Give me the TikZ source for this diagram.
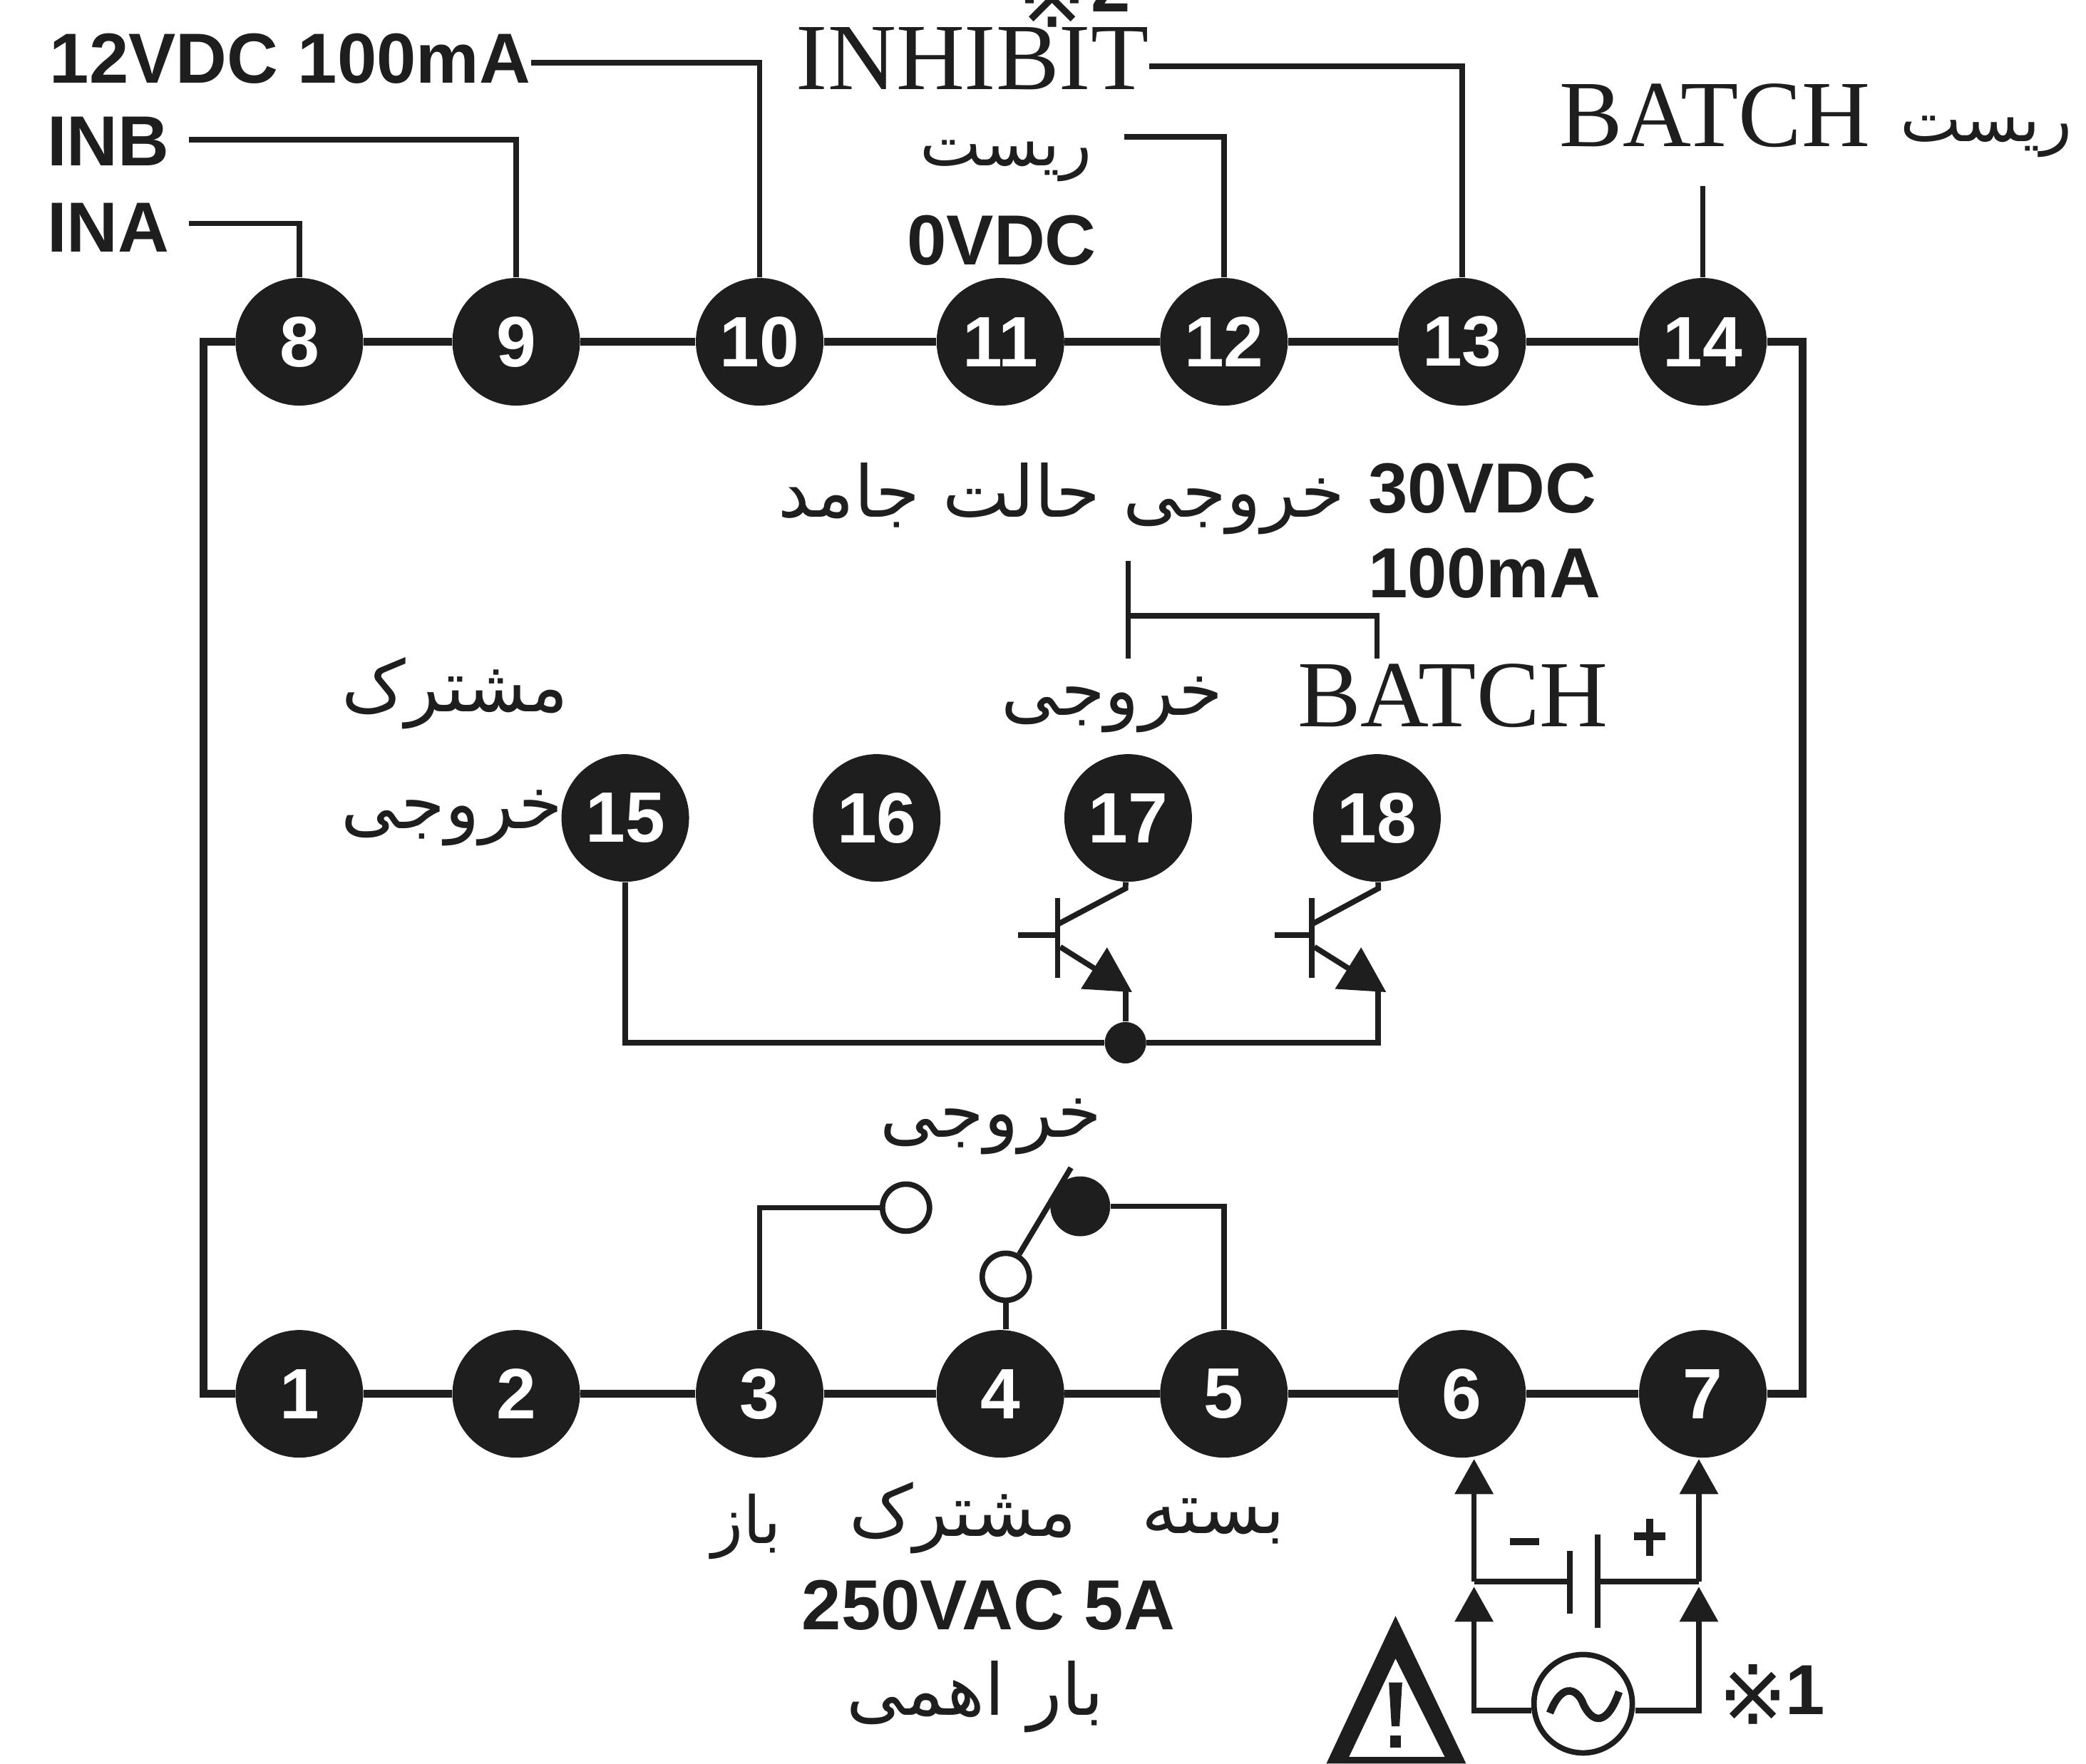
\documentclass[tikz,border=0pt]{standalone}
\usepackage{fontspec}
\usetikzlibrary{arrows.meta}
\setmainfont{Liberation Serif}
\setsansfont{Liberation Sans}
\newfontfamily\arabicfont[Script=Arabic]{DejaVu Sans}
\newfontfamily\symbolfont{DejaVu Sans}
\TeXXeTstate=1
\newcommand{\farsi}[1]{{\arabicfont\beginR #1\endR}}
\definecolor{inkblack}{RGB}{30,30,30}
\tikzset{
  terminal/.style={circle,fill=inkblack,text=white,minimum size=1.79cm,inner sep=0pt,font=\sffamily\bfseries\fontsize{28.5}{28.5}\selectfont},
  boldlabel/.style={text=inkblack,inner sep=0pt,font=\sffamily\bfseries\fontsize{28.3}{28.3}\selectfont},
  seriflabel/.style={text=inkblack,inner sep=0pt,font=\fontsize{37.8}{37.8}\selectfont},
  farsilabel/.style={text=inkblack,inner sep=0pt,font=\fontsize{28.5}{28.5}\selectfont},
  farsismall/.style={text=inkblack,inner sep=0pt,font=\fontsize{26}{26}\selectfont},
  marklabel/.style={text=inkblack,inner sep=0pt,font=\symbolfont\fontsize{33}{33}\selectfont},
  wire/.style={draw=inkblack,line width=2.2pt,line join=miter},
  frameline/.style={draw=inkblack,line width=3.2pt,line join=miter},
  emitter/.style={wire,-{Triangle[length=18pt,width=19pt]}},
  supply/.style={wire,-{Triangle[length=14pt,width=15pt]}},
}
\begin{document}
\begin{tikzpicture}[x=0.0186607cm,y=-0.0186607cm]
  \clip (0,0) rectangle (1568,1326);

  % Upper terminals
  \node (t8) at (225,257) [terminal] {8};
  \node (t9) at (388,257) [terminal] {9};
  \node (t10) at (571,257) [terminal] {10};
  \node (t11) at (752,257) [terminal] {11};
  \node (t12) at (920,257) [terminal] {12};
  \node (t13) at (1099,257) [terminal] {13};
  \node (t14) at (1280,257) [terminal] {14};

  % Lower terminals
  \node (t1) at (225,1048) [terminal] {1};
  \node (t2) at (388,1048) [terminal] {2};
  \node (t3) at (571,1048) [terminal] {3};
  \node (t4) at (752,1048) [terminal] {4};
  \node (t5) at (920,1048) [terminal] {5};
  \node (t6) at (1099,1048) [terminal] {6};
  \node (t7) at (1280,1048) [terminal] {7};

  % Middle terminals
  \node (t15) at (470,615) [terminal] {15};
  \node (t16) at (659,615) [terminal] {16};
  \node (t17) at (848,615) [terminal] {17};
  \node (t18) at (1035,615) [terminal] {18};

  % Case
  \coordinate (cornerul) at (153,257);
  \coordinate (cornerll) at (153,1048);
  \coordinate (cornerur) at (1355,257);
  \coordinate (cornerlr) at (1355,1048);
  \draw[frameline] (t8) -- (cornerul) -- (cornerll) -- (t1);
  \draw[frameline] (t14) -- (cornerur) -- (cornerlr) -- (t7);
  \draw[frameline] (t8) -- (t9);
  \draw[frameline] (t9) -- (t10);
  \draw[frameline] (t10) -- (t11);
  \draw[frameline] (t11) -- (t12);
  \draw[frameline] (t12) -- (t13);
  \draw[frameline] (t13) -- (t14);
  \draw[frameline] (t1) -- (t2);
  \draw[frameline] (t2) -- (t3);
  \draw[frameline] (t3) -- (t4);
  \draw[frameline] (t4) -- (t5);
  \draw[frameline] (t5) -- (t6);
  \draw[frameline] (t6) -- (t7);

  % Top labels
  \node (lsupply) at (37,44) [boldlabel,anchor=west] {12VDC 100mA};
  \node (linb) at (35,106) [boldlabel,anchor=west] {INB};
  \node (lina) at (35,171) [boldlabel,anchor=west] {INA};
  \node (linhibit) at (731,44) [seriflabel] {INHIBIT};
  \node (lmarktwo) at (791,-2) [marklabel] {※};
  \node (ltwo) at (835,-10) [boldlabel] {2};
  \node (lreset) at (756,121) [farsismall] {\farsi{ریست}};
  \node (lzero) at (753,181) [boldlabel] {0VDC};
  \node (lbatch) at (1289,87) [seriflabel] {BATCH};
  \node (lbatchreset) at (1493,103) [farsismall] {\farsi{ریست}};

  % Top wires
  \coordinate (inaend) at (142,168);
  \coordinate (inbend) at (142,105);
  \coordinate (resetend) at (845,103);
  \coordinate (batchend) at (1280,140);
  \draw[wire] (inaend) -| (t8);
  \draw[wire] (inbend) -| (t9);
  \draw[wire] (lsupply.east |- 0,47) -| (t10);
  \draw[wire] (resetend) -| (t12);
  \draw[wire] (linhibit.east |- 0,50) -| (t13);
  \draw[wire] (batchend) -- (t14);

  % Solid state output
  \node (lsolid) at (798,375) [farsilabel] {\farsi{خروجی حالت جامد}};
  \node (lvolt) at (1028,367) [boldlabel,anchor=west] {30VDC};
  \node (lamp) at (1028,431) [boldlabel,anchor=west] {100mA};
  \node (loutput) at (836,530) [farsilabel] {\farsi{خروجی}};
  \node (lbatchout) at (1092,523) [seriflabel] {BATCH};
  \node (lcommon) at (342,521) [farsilabel] {\farsi{مشترک}};
  \node (lcommonout) at (340,615) [farsilabel] {\farsi{خروجی}};
  \coordinate (braceup) at (848,422);
  \coordinate (bracemid) at (848,463);
  \coordinate (braceleft) at (848,495);
  \coordinate (braceright) at (1035,495);
  \draw[wire] (braceup) -- (braceleft);
  \draw[wire] (bracemid) -| (braceright);

  % Transistors
  \node (jct) at (846,784) [circle,fill=inkblack,minimum size=0.58cm,inner sep=0pt] {};
  \coordinate (baseatop) at (795,675);
  \coordinate (baseabot) at (795,735);
  \coordinate (baseain) at (765,703);
  \coordinate (baseamid) at (795,703);
  \coordinate (collaout) at (795,695);
  \coordinate (collabend) at (846,668);
  \coordinate (emitaout) at (797,712);
  \coordinate (emitatip) at (851,746);
  \coordinate (emitafoot) at (846,745);
  \draw[wire] (baseatop) -- (baseabot);
  \draw[wire] (baseain) -- (baseamid);
  \draw[wire] (collaout) -- (collabend) -- (t17);
  \draw[emitter] (emitaout) -- (emitatip);
  \draw[wire] (emitafoot) -- (jct);

  \coordinate (basebtop) at (986,675);
  \coordinate (basebbot) at (986,735);
  \coordinate (basebin) at (958,703);
  \coordinate (basebmid) at (986,703);
  \coordinate (collbout) at (986,695);
  \coordinate (collbbend) at (1036,668);
  \coordinate (emitbout) at (988,712);
  \coordinate (emitbtip) at (1042,746);
  \coordinate (emitbfoot) at (1036,745);
  \coordinate (returncorner) at (1036,784);
  \draw[wire] (basebtop) -- (basebbot);
  \draw[wire] (basebin) -- (basebmid);
  \draw[wire] (collbout) -- (collbbend) -- (t18);
  \draw[emitter] (emitbout) -- (emitbtip);
  \draw[wire] (emitbfoot) -- (returncorner) -- (jct);
  \draw[wire] (t15) |- (jct);

  % Relay
  \node (lrelay) at (745,847) [farsilabel] {\farsi{خروجی}};
  \node (copen) at (681,908) [circle,draw=inkblack,line width=2.2pt,fill=white,minimum size=0.66cm,inner sep=0pt] {};
  \node (cclosed) at (812,907) [circle,fill=inkblack,minimum size=0.84cm,inner sep=0pt] {};
  \node (ccommon) at (756,960) [circle,draw=inkblack,line width=2.2pt,fill=white,minimum size=0.66cm,inner sep=0pt] {};
  \coordinate (armend) at (805,878);
  \draw[wire] (t3) |- (copen);
  \draw[wire] (t5) |- (cclosed);
  \draw[wire] (ccommon) -- (ccommon |- t4.north);
  \draw[wire] (ccommon) -- (armend);

  % Bottom labels
  \node (lopen) at (561,1148) [farsismall] {\farsi{باز}};
  \node (lcom) at (724,1141) [farsilabel] {\farsi{مشترک}};
  \node (lclosed) at (912,1144) [farsilabel] {\farsi{بسته}};
  \node (lrating) at (743,1207) [boldlabel] {250VAC 5A};
  \node (lload) at (733,1276) [farsilabel] {\farsi{بار اهمی}};

  % Supply
  \node (acsrc) at (1190,1281) [circle,draw=inkblack,line width=2.2pt,minimum size=1.38cm,inner sep=0pt] {};
  \coordinate (capleft) at (1108,1189);
  \coordinate (capright) at (1277,1189);
  \coordinate (plateleft) at (1180,1189);
  \coordinate (plateright) at (1201,1189);
  \coordinate (acleft) at (1108,1286);
  \coordinate (acright) at (1277,1286);
  \coordinate (tipleft) at (1108,1193);
  \coordinate (tipright) at (1277,1193);
  \coordinate (tsixtip) at (1108,1097);
  \coordinate (tseventip) at (1277,1097);
  \draw[supply] (capleft) -- (tsixtip);
  \draw[supply] (capright) -- (tseventip);
  \draw[supply] (acsrc.west |- acleft) -- (acleft) -- (tipleft);
  \draw[supply] (acsrc.east |- acright) -- (acright) -- (tipright);
  \draw[wire] (capleft) -- (plateleft);
  \draw[wire] (plateright) -- (capright);
  \draw[wire] (1180,1166) -- (1180,1213);
  \draw[wire] (1201,1154) -- (1201,1224);
  \draw[draw=inkblack,line width=3pt] (1135,1159) -- (1157,1159);
  \draw[draw=inkblack,line width=3pt] (1228,1155) -- (1252,1155) (1240,1142) -- (1240,1170);
  \draw[draw=inkblack,line width=3pt] (1165,1288) .. controls (1175,1262) and (1187,1272) .. (1190,1281) .. controls (1197,1296) and (1208,1298) .. (1217,1272);
  \node (lmarkone) at (1318,1274) [marklabel] {※};
  \node (lone) at (1357,1271) [boldlabel] {1};

  % Warning sign
  \fill[inkblack,even odd rule] (1049,1215) -- (1102,1326) -- (997,1326) -- cycle
    (1049,1247) -- (1086,1321) -- (1014,1321) -- cycle;
  \fill[inkblack] (1044,1265) -- (1054,1265) -- (1052,1298) -- (1046,1298) -- cycle;
  \fill[inkblack] (1045,1305) rectangle (1053,1314);
\end{tikzpicture}
\end{document}
